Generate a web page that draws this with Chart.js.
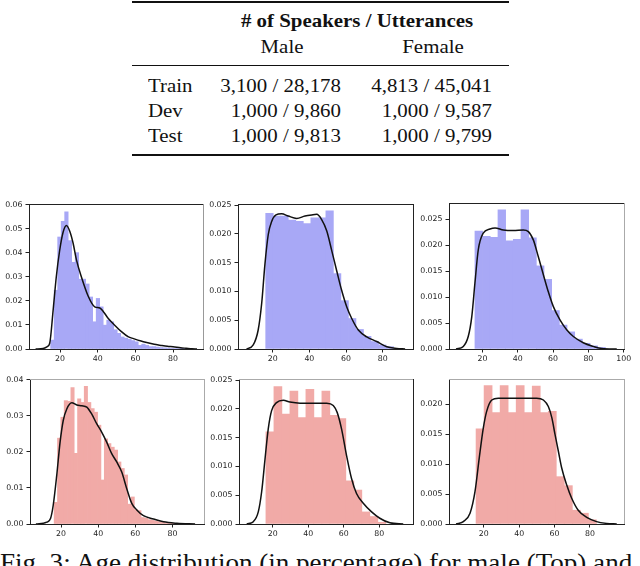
<!DOCTYPE html>
<html lang="en">
<head>
<meta charset="UTF-8">
<title>Age distribution</title>
<script src="https://cdn.jsdelivr.net/npm/chart.js@4.4.1/dist/chart.umd.min.js"></script>
<style>
  body { margin: 0; background: #fff; }
  #page { position: relative; width: 640px; height: 566px; overflow: hidden; background: #fff;
          font-family: "Liberation Serif", "Times New Roman", serif; color: #111; }
  .rule { position: absolute; left: 132px; width: 377px; background: #111; }
  .t { position: absolute; font-size: 19px; line-height: 19px; white-space: nowrap;
       transform: scaleX(1.1); transform-origin: left center; }
  .c { transform: translateX(-50%) scaleX(1.1); transform-origin: center center; }
  .r { transform: translateX(-100%) scaleX(1.1); transform-origin: right center; }
  canvas { position: absolute; }
</style>
</head>
<body>
<div id="page">
  <div class="rule" style="top:1px;height:2px"></div>
  <div class="t c" style="left:357px;top:11px;font-weight:bold"># of Speakers / Utterances</div>
  <div class="t c" style="left:282px;top:37px">Male</div>
  <div class="t c" style="left:433px;top:37px">Female</div>
  <div class="rule" style="top:65px;height:1px"></div>
  <div id="rows"></div>
  <div class="rule" style="top:154px;height:2px"></div>
  <div class="t" style="left:0;top:551px;font-size:24.6px;line-height:24.6px">Fig. 3: Age distribution (in percentage) for male (Top) and</div>
</div>

<script>
// table
const splitNames = ['Train', 'Dev', 'Test'];
const maleCounts = ['3,100 / 28,178', '1,000 / 9,860', '1,000 / 9,813'];
const femaleCounts = ['4,813 / 45,041', '1,000 / 9,587', '1,000 / 9,799'];

// male / train
const maleTrainBins = [15.93, 17.79, 19.65, 21.51, 23.37, 25.23, 27.09, 28.95, 30.81, 32.67, 34.53, 36.39, 38.25, 40.11,
  41.97, 43.83, 45.69, 47.55, 49.41, 51.27, 53.13, 54.99, 56.85, 58.71, 60.57, 62.43, 64.29, 66.15, 68.01, 69.87,
  71.73, 73.59, 75.45, 77.31, 79.17, 81.03, 82.89, 84.75, 86.61, 88.47];
const maleTrainDensity = [0.0037, 0.0244, 0.0465, 0.053, 0.057, 0.045, 0.036, 0.040, 0.029, 0.029, 0.027, 0.0216, 0.0113, 0.021,
  0.0175, 0.0099, 0.012, 0.0113, 0.008, 0.0065, 0.005, 0.0045, 0.004, 0.0035, 0.003, 0.0015, 0.002, 0.0015, 0.001, 0.001,
  0.0008, 0.0006, 0.0005, 0.0004, 0.0003, 0.0002, 0.0002, 0.0001, 0.0001, 0.0001];
const maleTrainKdeX = [7, 11, 13, 14.5, 16.3, 18.0, 19.8, 21.6, 23.4, 25.1, 26.9, 28.7, 31.3, 34.9, 38.4, 41.1, 43, 45.5,
  49.0, 52.6, 56.1, 59, 63, 66, 70, 73, 77, 80, 84, 87, 90, 92.7];
const maleTrainKdeY = [0, 0.0002, 0.0009, 0.0024, 0.016, 0.030, 0.041, 0.0485, 0.0513, 0.049, 0.044, 0.037, 0.030, 0.022,
  0.0175, 0.017, 0.0155, 0.0128, 0.0099, 0.0072, 0.0051, 0.0043, 0.0033, 0.0027, 0.002, 0.0016, 0.0011, 0.0009, 0.0005,
  0.0003, 0.0001, 0];

// male / dev
const maleDevBins = [18.25, 22.35, 26.45, 30.55, 34.65, 38.75, 42.85, 46.95, 51.05, 55.15, 59.25, 63.35, 67.45, 71.55, 75.65, 79.75, 83.85];
const maleDevDensity = [0.0236, 0.0231, 0.0231, 0.0224, 0.0222, 0.0218, 0.0228, 0.0228, 0.0240, 0.0131, 0.0084, 0.0053,
  0.0034, 0.0022, 0.0013, 0.0007, 0.0004];
const maleDevKdeX = [5.8, 9.4, 12.1, 14.0, 15.8, 17.6, 19.5, 21.8, 24.9, 28.5, 33.1, 37.6, 41.3, 44.0, 46.7, 49.5, 52.2,
  54.9, 57.6, 60.4, 63.1, 66.7, 71.3, 76.7, 82.2, 87.6, 92.2];
const maleDevKdeY = [0, 0.0007, 0.0033, 0.0079, 0.0148, 0.0199, 0.0222, 0.0233, 0.0235, 0.0231, 0.0227, 0.0231, 0.0233,
  0.0234, 0.0225, 0.0205, 0.0171, 0.0136, 0.0102, 0.0073, 0.0053, 0.0033, 0.0021, 0.0013, 0.0004, 0.0001, 0];

// male / test
const maleTestBins = [17.88, 22.23, 26.58, 30.93, 35.28, 39.63, 43.98, 48.33, 52.68, 57.03, 61.38, 65.73, 70.08, 74.43, 78.78, 83.13, 87.48];
const maleTestDensity = [0.0227, 0.0217, 0.0215, 0.0268, 0.0208, 0.0211, 0.0268, 0.0214, 0.0160, 0.0134, 0.0074, 0.0046,
  0.0033, 0.0019, 0.0011, 0.0006, 0.0003];
const maleTestKdeX = [5.0, 9.1, 11.9, 13.9, 15.7, 17.6, 20.4, 24.2, 27.1, 31.8, 37.5, 43.1, 46.0, 48.8, 51.6, 54.5, 57.3,
  60.1, 63.9, 67.7, 71.5, 77.1, 82.8, 87.6, 96.1];
const maleTestKdeY = [0, 0.0005, 0.0024, 0.0062, 0.0127, 0.0191, 0.0223, 0.0231, 0.0233, 0.0229, 0.0228, 0.0229, 0.0226,
  0.0210, 0.0178, 0.0143, 0.0110, 0.0082, 0.0056, 0.0037, 0.0024, 0.0012, 0.0005, 0.0001, 0];

// female / train
const femaleTrainBins = [17.2, 19.0, 20.8, 22.6, 24.4, 26.2, 28.0, 29.8, 31.6, 33.4, 35.2, 37.0, 38.8, 40.6, 42.4, 44.2,
  46.0, 47.8, 49.6, 51.4, 53.2, 55.0, 56.8, 58.6, 60.4, 62.2, 64.0, 65.8, 67.6, 69.4, 71.2, 73.0, 74.8, 76.6, 78.4, 80.2, 82.0];
const femaleTrainDensity = [0.006, 0.0238, 0.0296, 0.0342, 0.0340, 0.0378, 0.0196, 0.0347, 0.0337, 0.0382, 0.0337, 0.0320,
  0.0310, 0.0274, 0.0122, 0.0236, 0.0223, 0.0213, 0.0205, 0.0172, 0.0154, 0.0136, 0.0055, 0.0075, 0.0040, 0.0037, 0.0018,
  0.0016, 0.0012, 0.0010, 0.0008, 0.0006, 0.0005, 0.0004, 0.0003, 0.0002, 0.0001];
const femaleTrainKdeX = [6.5, 12.3, 14.4, 15.8, 17.7, 19.5, 21.2, 23.1, 25.8, 28.5, 31.2, 33.9, 36.5, 39.2, 41.9, 44.6,
  47.3, 50.0, 52.7, 55.4, 58.1, 60.8, 64.4, 69.8, 75.2, 82.4, 92.2];
const femaleTrainKdeY = [0, 0.0005, 0.0016, 0.0052, 0.0135, 0.0227, 0.0287, 0.0319, 0.0336, 0.0330, 0.0328, 0.0324, 0.0305,
  0.0278, 0.0255, 0.0227, 0.0195, 0.0172, 0.0144, 0.0098, 0.0057, 0.0039, 0.0023, 0.0014, 0.0006, 0.0002, 0];

// female / dev
const femaleDevBins = [18.45, 22.95, 27.45, 31.95, 36.45, 40.95, 45.45, 49.95, 54.45, 58.95, 63.45, 67.95, 72.45, 76.95, 81.45];
const femaleDevDensity = [0.0160, 0.0239, 0.0191, 0.0231, 0.0185, 0.0234, 0.0185, 0.0231, 0.0189, 0.0183, 0.0075, 0.0059,
  0.0021, 0.0013, 0.0003];
const femaleDevKdeX = [5.4, 9.1, 11.9, 13.8, 15.7, 17.5, 19.4, 22.2, 26.0, 29.7, 35.4, 42.8, 50.4, 54.1, 56.3, 58.8, 61.6,
  64.4, 67.2, 71.0, 75.7, 80.3, 86.0, 93.5];
const femaleDevKdeY = [0, 0.0004, 0.0021, 0.0056, 0.0113, 0.0165, 0.0197, 0.0211, 0.0215, 0.0212, 0.0210, 0.0210, 0.0210,
  0.0206, 0.0194, 0.0165, 0.0119, 0.0079, 0.0053, 0.0036, 0.0021, 0.0010, 0.0002, 0];

// female / test
const femaleTestBins = [17.87, 22.41, 26.95, 31.49, 36.03, 40.57, 45.11, 49.65, 54.19, 58.73, 63.27, 67.81, 72.35, 76.89, 81.43];
const femaleTestDensity = [0.0159, 0.0231, 0.0186, 0.0231, 0.0186, 0.0231, 0.0186, 0.0230, 0.0186, 0.0188, 0.0079, 0.0064,
  0.0023, 0.0018, 0.0007];
const femaleTestKdeX = [4.3, 8.4, 12.2, 15.0, 17.4, 19.7, 21.6, 24.5, 28.2, 40.5, 49.9, 53.7, 56.5, 58.5, 60.3, 62.2, 64.1,
  66.9, 69.7, 73.4, 78.2, 83.8, 89.5, 95.2];
const femaleTestKdeY = [0, 0.0004, 0.0018, 0.0054, 0.0110, 0.0160, 0.0188, 0.0207, 0.0210, 0.0210, 0.0210, 0.0207, 0.0196,
  0.0177, 0.0149, 0.0121, 0.0093, 0.0065, 0.0043, 0.0023, 0.0011, 0.0004, 0.0001, 0];

const ageTicks = [20, 40, 60, 80, 100];

// table rows
const rows = document.getElementById('rows');
const rowTops = [76, 101, 126];
splitNames.forEach((name, i) => {
  rows.insertAdjacentHTML('beforeend',
    '<div class="t" style="left:148px;top:' + rowTops[i] + 'px">' + name + '</div>' +
    '<div class="t r" style="left:341px;top:' + rowTops[i] + 'px">' + maleCounts[i] + '</div>' +
    '<div class="t r" style="left:492px;top:' + rowTops[i] + 'px">' + femaleCounts[i] + '</div>');
});

// top and right spines
const framePlugin = {
  id: 'frame',
  afterDatasetsDraw(chart, args, opts) {
    const a = chart.chartArea, ctx = chart.ctx;
    const top = Math.round(a.top - 0.5) + 0.5;
    const right = Math.round(a.right - 0.5) + 0.5;
    ctx.save();
    ctx.lineWidth = 1;
    ctx.strokeStyle = opts.top;
    ctx.beginPath(); ctx.moveTo(a.left, top); ctx.lineTo(a.right + 0.5, top); ctx.stroke();
    ctx.strokeStyle = opts.right;
    ctx.beginPath(); ctx.moveTo(right, a.top); ctx.lineTo(right, a.bottom); ctx.stroke();
    ctx.restore();
  }
};

const blueBar = '#a8a8f6';
const redBar = '#f1aaa7';
const tickFont = { family: 'DejaVu Sans', size: 7.8 };
const padTop = 8, padRight = 14, xAxisH = 20;

const panels = [
  { box: [29, 204, 203, 349], yw: 29, xMin: 3.5, xMax: 95.9, yMax: 0.0602, yStep: 0.01, digits: 2,
    bins: maleTrainBins, dens: maleTrainDensity, kx: maleTrainKdeX, ky: maleTrainKdeY, color: blueBar, top: '#222', right: '#999' },
  { box: [238, 204, 413, 349], yw: 34, xMin: 1.1, xMax: 96.5, yMax: 0.0252, yStep: 0.005, digits: 3,
    bins: maleDevBins, dens: maleDevDensity, kx: maleDevKdeX, ky: maleDevKdeY, color: blueBar, top: '#222', right: '#222' },
  { box: [449, 203, 624, 349], yw: 34, xMin: 1.0, xMax: 100.2, yMax: 0.0281, yStep: 0.005, digits: 3,
    bins: maleTestBins, dens: maleTestDensity, kx: maleTestKdeX, ky: maleTestKdeY, color: blueBar, top: '#222', right: '#aaa' },
  { box: [30, 379, 204, 524], yw: 30, xMin: 3.3, xMax: 97, yMax: 0.0402, yStep: 0.01, digits: 2,
    bins: femaleTrainBins, dens: femaleTrainDensity, kx: femaleTrainKdeX, ky: femaleTrainKdeY, color: redBar, top: '#aaa', right: '#aaa' },
  { box: [239, 379, 413, 524], yw: 34, xMin: 1.05, xMax: 99, yMax: 0.0252, yStep: 0.005, digits: 3,
    bins: femaleDevBins, dens: femaleDevDensity, kx: femaleDevKdeX, ky: femaleDevKdeY, color: redBar, top: '#aaa', right: '#222' },
  { box: [449, 379, 624, 524], yw: 34, xMin: 0.3, xMax: 99.3, yMax: 0.0242, yStep: 0.005, digits: 3,
    bins: femaleTestBins, dens: femaleTestDensity, kx: femaleTestKdeX, ky: femaleTestKdeY, color: redBar, top: '#aaa', right: '#aaa' }
];

const page = document.getElementById('page');

panels.forEach((p) => {
  const [L, T, R, B] = p.box;
  const cv = document.createElement('canvas');
  cv.width = R - L + p.yw + padRight;
  cv.height = B - T + padTop + xAxisH;
  cv.style.left = (L - p.yw) + 'px';
  cv.style.top = (T - padTop) + 'px';
  page.appendChild(cv);

  new Chart(cv.getContext('2d'), {
    type: 'bar',
    data: {
      datasets: [
        {
          type: 'line',
          data: p.kx.map((x, i) => ({ x: x, y: p.ky[i] })),
          borderColor: '#111',
          borderWidth: 1.5,
          pointRadius: 0,
          cubicInterpolationMode: 'monotone',
          order: 0
        },
        {
          type: 'bar',
          data: p.bins.map((x, i) => ({ x: x, y: p.dens[i] })),
          backgroundColor: p.color,
          borderWidth: 0,
          barPercentage: 1,
          categoryPercentage: 1,
          order: 1
        }
      ]
    },
    options: {
      responsive: false,
      animation: false,
      events: [],
      layout: { padding: { top: padTop, right: padRight, left: 0, bottom: 0 } },
      plugins: { legend: { display: false }, tooltip: { enabled: false }, frame: { top: p.top, right: p.right } },
      scales: {
        x: {
          type: 'linear', min: p.xMin, max: p.xMax, offset: false,
          afterBuildTicks: (s) => { s.ticks = ageTicks.filter(v => v >= s.min && v <= s.max).map(v => ({ value: v })); },
          afterFit: (s) => { s.height = xAxisH; },
          grid: { offset: false, drawOnChartArea: false, tickLength: 3.5, tickColor: '#222' },
          border: { display: true, color: '#222', width: 1 },
          ticks: { font: tickFont, color: '#222', padding: 2, maxRotation: 0, autoSkip: false }
        },
        y: {
          min: 0, max: p.yMax,
          afterFit: (s) => { s.width = p.yw; },
          grid: { drawOnChartArea: false, tickLength: 3.5, tickColor: '#222' },
          border: { display: true, color: '#222', width: 1 },
          ticks: { stepSize: p.yStep, includeBounds: false, font: tickFont, color: '#222', padding: 3,
                   autoSkip: false, callback: (v) => v.toFixed(p.digits) }
        }
      }
    },
    plugins: [framePlugin]
  });
});
</script>
</body>
</html>
